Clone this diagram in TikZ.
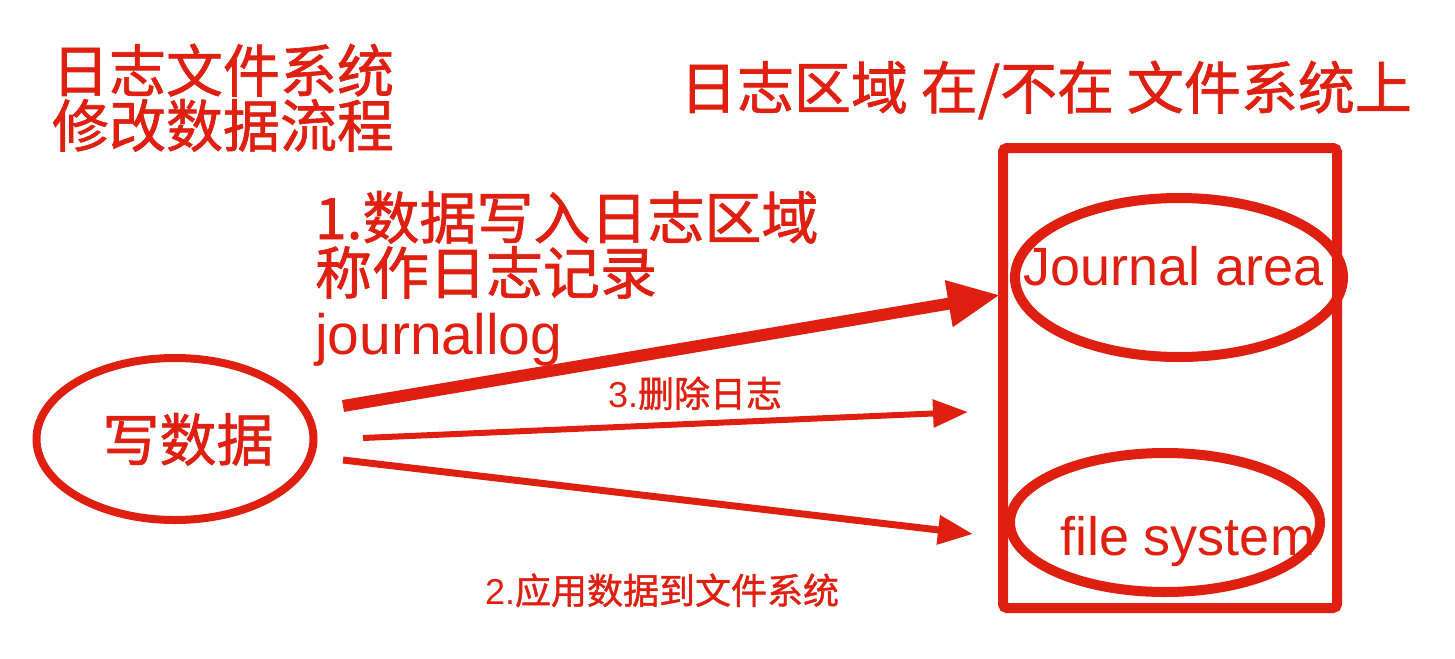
\documentclass[tikz,border=0pt]{standalone}
\usepackage{fontspec}
\setmainfont{Liberation Sans}
\newfontfamily\cjk{Noto Sans CJK SC}[FakeBold=1.2]
\usetikzlibrary{arrows.meta,shapes.geometric}
\definecolor{mred}{RGB}{223,32,16}
\lineskiplimit=-40pt\relax
\lineskip=0pt\relax
\begin{document}
\begin{tikzpicture}[x=0.5pt,y=-0.5pt,
  every node/.style={inner sep=0pt,outer sep=0pt,text=mred},
  big/.style={font=\fontsize{28.5}{27.5}\selectfont},
  mid/.style={font=\fontsize{27}{30}\selectfont},
  small/.style={font=\fontsize{18}{20}\selectfont},
  block/.style={text width=300pt,align=left,anchor=base west},
  oval/.style={ellipse,draw=mred},
  conn/.style={draw=mred}]
\useasboundingbox[fill=white] (0,0) rectangle (1455,658);

% titles
\node[big,block] (t1) at (52,92) {\cjk 日志文件系统\\修改数据流程};
\node[big,anchor=base west] (t3) at (680,109) {\cjk 日志区域 在/不在 文件系统上};

% step 1 text
\node[big,block] (s1) at (315,239)
  {{\cjk 1.数据写入日志区域}\\{\cjk 称作日志记录}\\[2.5pt]journallog};

% write data ellipse
\node[oval,line width=4pt,minimum width=138.5pt,minimum height=81pt] (w) at (175,439) {};
\node[big,anchor=base] (wt) at (188,461) {\cjk 写数据};

% file system box
\node[draw=mred,line width=5pt,rounded corners=2pt,minimum width=167pt,minimum height=230pt] (fs) at (1170,378) {};
\node[oval,line width=5pt,minimum width=164pt,minimum height=79.5pt] (ja) at (1179,277.5) {};
\node[mid,anchor=base west] (jat) at (1023,285) {Journal area};
\node[oval,line width=5pt,minimum width=155pt,minimum height=69.5pt] (fe) at (1165,522.5) {};
\node[mid,anchor=base west] (fet) at (1060,555) {file system};

% arrows
\coordinate (a1s) at (343,406);
\coordinate (a1e) at (1000,295);
\coordinate (a2s) at (363,438);
\coordinate (a2e) at (968,412);
\coordinate (a3s) at (343,460);
\coordinate (a3e) at (973,534);
\draw[conn,line width=6pt,-{Triangle[length=26pt,width=22pt]}] (a1s) -- (a1e);
\draw[conn,line width=3pt,-{Triangle[length=17.5pt,width=13.5pt]}] (a2s) -- (a2e);
\draw[conn,line width=3.5pt,-{Triangle[length=17.5pt,width=14pt]}] (a3s) -- (a3e);

% labels
\node[small,anchor=base west] (l3) at (608,407) {3.{\cjk 删除日志}};
\node[small,anchor=base west] (l2) at (485,604) {2.{\cjk 应用数据到文件系统}};
\end{tikzpicture}
\end{document}
